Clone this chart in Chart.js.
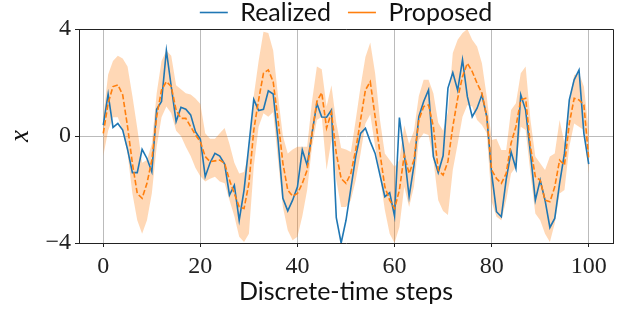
<!DOCTYPE html>
<html>
<head>
    <title>Realized vs Proposed</title>
    <script src="https://cdn.jsdelivr.net/npm/chart.js"></script>
    <style>
        body { margin: 0; background: #fff; }
        #wrap { width: 621px; height: 310px; }
    </style>
</head>
<body>
    <div id="wrap"><canvas id="stateChart" width="621" height="310"></canvas></div>
    <script>
        // values, one per time step 0..100
        const steps = Array.from({length: 101}, (_, i) => i);

        const realized = [
            0.41, 1.57, 0.32, 0.47, 0.22, -0.5, -1.37, -1.37, -0.5, -0.84,
            -1.34, 1.0, 1.29, 3.2, 1.85, 0.54, 1.07, 1.0, 0.79, 0.16,
            -0.12, -1.52, -1.0, -0.65, -0.75, -1.05, -2.21, -1.84, -3.15, -2.02,
            -0.34, 1.37, 0.95, 1.0, 1.69, 1.57, -0.15, -2.33, -2.8, -2.4,
            -1.9, -0.52, -1.09, 0.1, 1.22, 0.71, 0.7, 0.97, -3.05, -4.0,
            -3.15, -1.96, -0.77, 0.1, 0.29, -0.21, -0.65, -1.46, -2.27, -2.12,
            -3.0, 0.69, -0.65, -2.27, -1.09, 0.72, 1.29, 1.72, -0.77, -1.37,
            -0.74, 1.79, 2.37, 1.71, 2.85, 1.47, 0.72, 1.04, 1.54, 0.72,
            -1.4, -2.83, -3.02, -1.62, -0.59, -1.21, 1.54, 0.97, -0.65, -2.4,
            -1.65, -2.4, -3.42, -3.08, -1.77, -0.65, 1.35, 2.1, 2.47, 0.1,
            -1.05
        ];

        const proposed = [
            0.1, 1.22, 1.85, 1.91, 1.54, 0.35, -1.02, -2.15, -2.33, -1.77,
            -0.9, 0.72, 1.72, 2.03, 1.85, 0.97, 0.66, 0.66, 0.35, 0.04,
            -0.21, -0.77, -0.96, -0.93, -0.9, -1.02, -1.65, -2.15, -2.65, -2.71,
            -1.77, 0.22, 1.35, 2.35, 2.47, 2.03, 0.6, -1.02, -2.02, -2.25,
            -2.15, -1.77, -1.27, 0.1, 1.29, 1.62, 0.3, 0.88, -0.65, -1.59,
            -1.77, -1.4, -0.52, 0.6, 1.72, 2.03, 0.72, -0.65, -1.9, -2.4,
            -2.71, -2.02, -0.71, -1.4, -0.9, 0.6, 1.1, 1.16, 0.35, -1.27,
            -1.46, -0.95, 0.35, 1.4, 2.22, 2.72, 2.41, 1.97, 1.6, 0.72,
            -1.27, -1.59, -1.77, -1.4, -0.27, 0.35, 1.35, 1.41, -0.4, -1.52,
            -1.65, -2.4, -2.46, -1.9, -0.9, -1.09, 0.47, 1.41, 1.35, 1.16,
            -0.84
        ];

        // shaded band around the proposed trajectory
        const bandUpper = [
            0.7, 2.3, 2.8, 3.0, 2.9, 2.6, 1.5, 0.3, -1.0, -0.9,
            -0.3, 1.6, 2.8, 3.2, 3.0, 1.9, 1.75, 1.6, 1.55, 1.4,
            1.2, 0.1, -0.1, -0.1, 0.1, 0.3, -0.3, -1.0, -1.4, -1.35,
            -0.6, 1.5, 2.8, 3.9, 3.85, 3.2, 1.5, 0.0, -0.65, -0.5,
            -0.4, -0.4, -0.4, 1.3, 2.6, 2.5, 1.1, 1.9, 0.5, -0.45,
            -0.5, -0.6, 0.6, 1.85, 2.95, 3.5, 2.35, 0.6, -0.65, -0.9,
            -1.15, -0.9, 0.4, -0.3, 0.2, 1.5, 2.1, 2.1, 1.6, 0.5,
            0.2, 0.9, 3.1, 3.6, 3.85, 4.0, 3.6, 3.35, 2.72, 1.47,
            -0.15, -0.1, -0.52, -0.52, 0.97, 1.22, 2.35, 2.6, 0.6, -0.77,
            -1.02, -1.27, -0.77, -0.65, 0.6, -0.27, 1.35, 2.28, 2.35, 1.85,
            0.22
        ];

        const bandLower = [
            -0.75, 0.2, 0.7, 0.7, 0.2, -0.65, -2.15, -3.15, -3.65, -3.15,
            -2.15, -0.4, 0.7, 1.1, 0.85, 0.2, 0.0, -0.4, -0.75, -1.2,
            -1.5, -1.7, -1.6, -1.52, -1.7, -1.77, -2.4, -3.0, -3.77, -3.96,
            -3.65, -1.15, 0.35, 0.85, 0.72, 0.9, -0.9, -2.65, -3.52, -3.9,
            -3.77, -3.0, -2.02, -0.4, 0.6, 0.72, -1.27, -0.15, -1.65, -2.65,
            -2.65, -2.4, -1.65, -0.65, 0.47, 0.8, -0.4, -1.52, -2.77, -3.65,
            -4.0, -3.4, -1.9, -2.65, -1.9, -0.15, 0.1, 0.04, -0.9, -2.4,
            -2.8, -2.95, -1.27, -0.3, 0.72, 1.16, 1.1, 0.6, 0.41, 0.1,
            -2.46, -3.02, -3.15, -2.4, -1.4, -1.15, 0.35, 0.22, -1.4, -2.9,
            -3.15, -3.65, -3.96, -3.27, -2.15, -2.02, -0.4, 0.47, 0.35, 0.22,
            -1.4
        ];

        const xTicks = [0, 20, 40, 60, 80, 100];
        const yTicks = [-4, 0, 4];

        const pts = arr => steps.map((t, i) => ({x: t, y: arr[i]}));

        // matplotlib-style box around the axes
        const frame = {
            id: 'frame',
            afterDatasetsDraw(chart) {
                const {ctx, chartArea: a} = chart;
                ctx.save();
                ctx.strokeStyle = '#222';
                ctx.lineWidth = 1;
                ctx.beginPath();
                ctx.moveTo(a.left, a.top + 0.5);
                ctx.lineTo(a.right + 0.5, a.top + 0.5);
                ctx.lineTo(a.right + 0.5, a.bottom);
                ctx.stroke();
                ctx.restore();
            }
        };

        const ctx = document.getElementById('stateChart').getContext('2d');
        const stateChart = new Chart(ctx, {
            type: 'line',
            data: {
                datasets: [
                    {
                        label: 'Realized',
                        data: pts(realized),
                        borderColor: '#1f77b4',
                        backgroundColor: '#1f77b4',
                        borderWidth: 1.6,
                        pointRadius: 0,
                        fill: false,
                        order: 1
                    },
                    {
                        label: 'Proposed',
                        data: pts(proposed),
                        borderColor: '#ff7f0e',
                        backgroundColor: '#ff7f0e',
                        borderWidth: 1.6,
                        borderDash: [5.5, 2.4],
                        pointRadius: 0,
                        fill: false,
                        order: 0
                    },
                    {
                        label: 'lower',
                        data: pts(bandLower),
                        borderColor: 'transparent',
                        borderWidth: 0,
                        pointRadius: 0,
                        fill: false,
                        order: 2
                    },
                    {
                        label: 'upper',
                        data: pts(bandUpper),
                        borderColor: 'transparent',
                        backgroundColor: 'rgba(255, 127, 14, 0.3)',
                        borderWidth: 0,
                        pointRadius: 0,
                        fill: '-1',
                        order: 2
                    }
                ]
            },
            options: {
                responsive: false,
                animation: false,
                devicePixelRatio: 1,
                layout: { padding: { top: -17, right: 8, left: 0, bottom: 0 } },
                plugins: {
                    tooltip: { enabled: false },
                    legend: {
                        position: 'top',
                        fullSize: false,
                        maxHeight: 46,
                        labels: {
                            usePointStyle: true,
                            pointStyle: 'line',
                            pointStyleWidth: 28,
                            padding: 17,
                            color: '#111',
                            font: { family: 'Lato', size: 25 },
                            filter: item => item.datasetIndex < 2,
                            sort: (a, b) => a.datasetIndex - b.datasetIndex
                        }
                    }
                },
                scales: {
                    x: {
                        type: 'linear',
                        min: -5,
                        max: 105,
                        afterBuildTicks: s => { s.ticks = xTicks.map(v => ({value: v})); },
                        afterFit: s => { s.height = 67; },
                        grid: { color: '#bbbbbb', lineWidth: 1, tickColor: '#222', tickLength: 4 },
                        border: { color: '#222', width: 1 },
                        ticks: {
                            color: '#222',
                            padding: 5,
                            maxRotation: 0,
                            font: { family: 'Liberation Serif', size: 24 }
                        },
                        title: {
                            display: true,
                            text: 'Discrete-time steps',
                            color: '#111',
                            font: { family: 'Lato', size: 25, lineHeight: 1.2 },
                            padding: { top: 0, bottom: 3 }
                        }
                    },
                    y: {
                        min: -4,
                        max: 4,
                        afterBuildTicks: s => { s.ticks = yTicks.map(v => ({value: v})); },
                        afterFit: s => { s.width = 79; },
                        grid: { color: '#bbbbbb', lineWidth: 1, tickColor: '#222', tickLength: 4 },
                        border: { color: '#222', width: 1 },
                        ticks: {
                            color: '#222',
                            padding: 4,
                            font: { family: 'Liberation Serif', size: 24 },
                            callback: v => v < 0 ? '\u2212' + Math.abs(v) : String(v)
                        },
                        title: {
                            display: true,
                            text: 'x',
                            color: '#111',
                            font: { family: 'Liberation Serif', size: 27, style: 'italic', lineHeight: 1.2 },
                            padding: { top: 5, bottom: 0 }
                        }
                    }
                }
            },
            plugins: [frame]
        });
    </script>
</body>
</html>
